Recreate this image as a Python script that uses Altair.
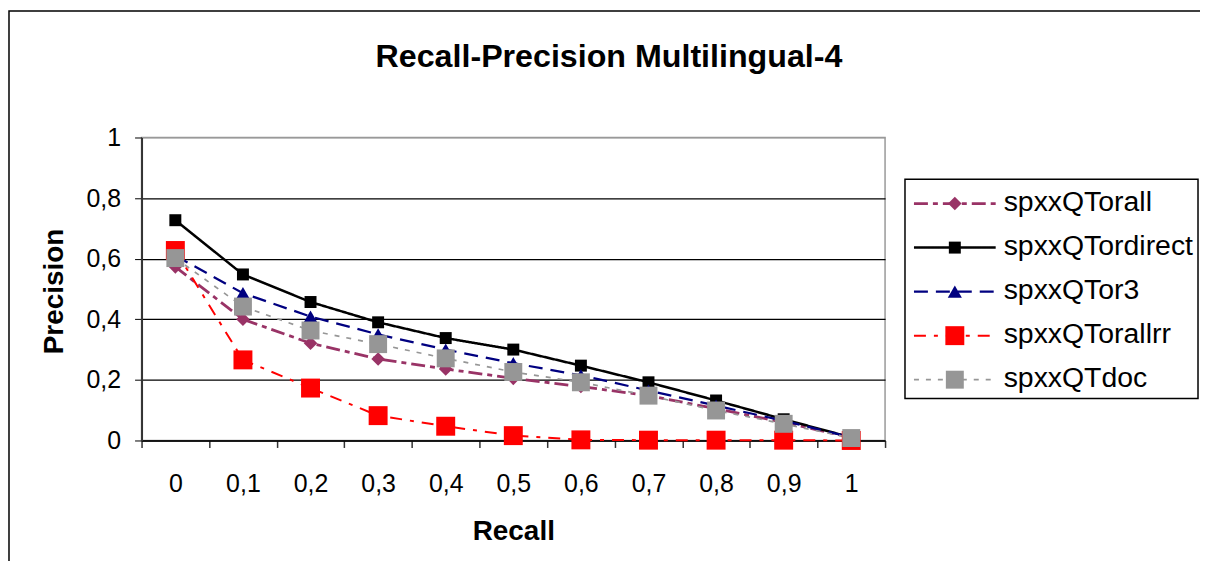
import altair as alt
import pandas as pd

# ---- data ----
recall_labels = ["0", "0,1", "0,2", "0,3", "0,4", "0,5", "0,6", "0,7", "0,8", "0,9", "1"]
series_names = ["spxxQTorall", "spxxQTordirect", "spxxQTor3", "spxxQTorallrr", "spxxQTdoc"]

orall = [0.573, 0.400, 0.321, 0.269, 0.236, 0.205, 0.178, 0.148, 0.105, 0.060, 0.010]
ordirect = [0.727, 0.548, 0.457, 0.390, 0.338, 0.300, 0.247, 0.192, 0.132, 0.070, 0.010]
or3 = [0.610, 0.486, 0.409, 0.350, 0.300, 0.255, 0.215, 0.165, 0.115, 0.065, 0.010]
orallrr = [0.627, 0.266, 0.173, 0.082, 0.047, 0.016, 0.002, 0.001, 0.001, 0.001, 0.000]
doc = [0.602, 0.442, 0.363, 0.318, 0.271, 0.226, 0.192, 0.148, 0.099, 0.055, 0.008]

y_ticks = [0, 0.2, 0.4, 0.6, 0.8, 1]
title_text = "Recall-Precision Multilingual-4"

# ---- styles ----
colors = ["#993366", "#000000", "#000080", "#FF0000", "#969696"]
dashes = [[14, 5, 5, 5], [1, 0], [14, 8], [12, 8, 4, 8], [5, 7]]
widths = [2.8, 1.7, 2.8, 2.2, 2.4]
shapes = ["diamond", "square", "triangle-up", "square", "square"]
sizes = [185, 144, 200, 361, 324]

all_values = [orall, ordirect, or3, orallrr, doc]
rows = []
for name, vals in zip(series_names, all_values):
    for r, v in zip(recall_labels, vals):
        rows.append({"series": name, "recall": r, "precision": v})
df = pd.DataFrame(rows)
legend_df = pd.DataFrame({"series": series_names})

FONT = "Liberation Sans"

color_enc = alt.Color("series:N", scale=alt.Scale(domain=series_names, range=colors), legend=None)
dash_enc = alt.StrokeDash("series:N", scale=alt.Scale(domain=series_names, range=dashes), legend=None)
width_enc = alt.StrokeWidth("series:N", scale=alt.Scale(domain=series_names, range=widths), legend=None)

x_scale = alt.Scale(type="band", domain=recall_labels, paddingInner=0, paddingOuter=0)
y_scale = alt.Scale(domain=[0, 1], nice=False)

x_axis = alt.Axis(
    title="Recall", labelAngle=0, tickBand="extent", tickSize=7, tickColor="#333333",
    tickWidth=1.5, domainColor="#000000", domainWidth=1.5, labelPadding=24,
    titleY=99, titleBaseline="alphabetic", grid=False,
)
y_axis = alt.Axis(
    title="Precision", values=y_ticks,
    labelExpr="replace(format(datum.value, '.1~f'), '.', ',')",
    tickSize=7, tickColor="#000000", tickWidth=1, domainColor="#333333", domainWidth=2,
    labelPadding=14, titleX=-79, titleY=154, titleAngle=270, titleBaseline="alphabetic",
    titleAlign="center", grid=True, gridWidth=1.2,
    gridColor={"condition": {"test": "datum.value >= 1", "value": "#999999"}, "value": "#000000"},
)

x_enc = alt.X("recall:O", sort=recall_labels, scale=x_scale, axis=x_axis)

lines = alt.Chart(df).mark_line().encode(
    x=x_enc,
    y=alt.Y("precision:Q", scale=y_scale, axis=y_axis),
    color=color_enc, strokeDash=dash_enc, strokeWidth=width_enc,
    detail="series:N",
)

legend_y = alt.Y("series:N", scale=alt.Scale(type="point", domain=series_names, range=[66.3, 243], padding=0), axis=None)

point_layers = []
legend_point_layers = []
for name, col, shp, sz in zip(series_names, colors, shapes, sizes):
    point_layers.append(
        alt.Chart(df).transform_filter(alt.datum.series == name).mark_point(
            filled=True, opacity=1, color=col, shape=shp, size=sz
        ).encode(
            x=x_enc,
            y=alt.Y("precision:Q", scale=y_scale, axis=None),
        )
    )
    legend_point_layers.append(
        alt.Chart(legend_df).transform_filter(alt.datum.series == name).mark_point(
            filled=True, opacity=1, color=col, shape=shp, size=sz
        ).encode(x=alt.value(816), y=legend_y)
    )

# outer chart border (decoration)
border = alt.Chart(alt.Data(values=[{}])).mark_rect(
    fillOpacity=0, stroke="#000000", strokeWidth=1.5
).encode(x=alt.value(-133), x2=alt.value(1100), y=alt.value(-127), y2=alt.value(500))

title = alt.Chart(alt.Data(values=[{}])).mark_text(
    text=title_text, font=FONT, fontSize=32.3, fontWeight="bold", align="center",
    baseline="alphabetic", color="#000000",
).encode(x=alt.value(469), y=alt.value(-70.3))

legend_box = alt.Chart(alt.Data(values=[{}])).mark_rect(
    fill="white", stroke="#000000", strokeWidth=1.5
).encode(x=alt.value(766), x2=alt.value(1060), y=alt.value(42), y2=alt.value(262))

legend_lines = alt.Chart(legend_df).mark_rule().encode(
    x=alt.value(775), x2=alt.value(857), y=legend_y,
    color=color_enc, strokeDash=dash_enc, strokeWidth=width_enc,
)
legend_text = alt.Chart(legend_df).mark_text(
    align="left", baseline="middle", dy=-2, font=FONT, fontSize=28.5, color="#000000"
).encode(x=alt.value(865), y=legend_y, text="series:N")

chart = alt.layer(
    border, title, lines, *point_layers, legend_box, legend_lines, *legend_point_layers, legend_text
).resolve_scale(y="independent").properties(
    width=746, height=304,
    autosize=alt.AutoSizeParams(type="none"),
    padding={"left": 134, "top": 129, "right": 316, "bottom": 120},
    background="white",
).configure_view(
    stroke="#999999", strokeWidth=1.5
).configure_axis(
    labelFont=FONT, labelFontSize=25, labelColor="#000000",
    titleFont=FONT, titleFontSize=28, titleFontWeight="bold", titleColor="#000000",
)

chart.save("out.html", embed_options={"renderer": "svg", "actions": False})
